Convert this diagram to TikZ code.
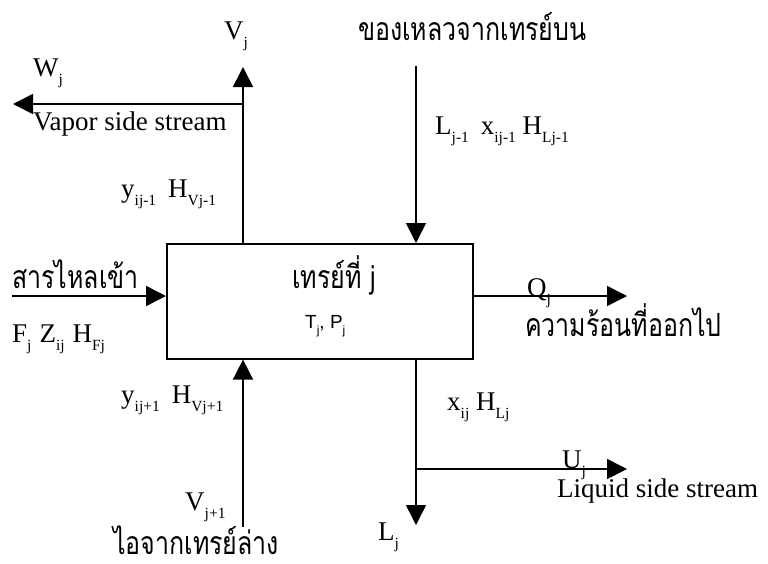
\documentclass[tikz,border=0pt]{standalone}
\usepackage{fontspec}
\setmainfont{Liberation Serif}
\newfontfamily\thaifont[Script=Thai,FakeStretch=0.78]{Loma}
\newfontfamily\arialf{Liberation Sans}
\usetikzlibrary{arrows.meta}
\newcommand\sbx[1]{\raisebox{-8pt}{\fontsize{15.5}{15.5}\selectfont #1}}
\newcommand\sbs[1]{\raisebox{-6pt}{\fontsize{12}{12}\selectfont #1}}
\begin{document}
\begin{tikzpicture}[x=1pt,y=-1pt,
  flow/.style={line width=1.6pt,-{Triangle[length=20pt,width=20pt]}},
  lbl/.style={anchor=base west,inner sep=0pt,font=\fontsize{27}{27}\selectfont},
  thl/.style={anchor=base west,inner sep=0pt,font=\thaifont\fontsize{32}{32}\selectfont},
  sfl/.style={anchor=base west,inner sep=0pt,font=\arialf\fontsize{19}{19}\selectfont}]
\useasboundingbox[fill=white] (0,0) rectangle (768,563);
% tray box
\node[draw,line width=1.6pt,minimum width=306pt,minimum height=115pt,inner sep=0pt,anchor=north west] (tray) at (166,243) {};
% free ends
\coordinate (vjtop) at (243,67);
\coordinate (wjsplit) at (243,104);
\coordinate (wjend) at (13,104);
\coordinate (ltop) at (416,66);
\coordinate (fin) at (12,296);
\coordinate (vbot) at (243,527);
\coordinate (qend) at (627,296);
\coordinate (ljend) at (416,525);
\coordinate (usplit) at (416,469);
\coordinate (uend) at (627,469);
% connectors
\draw[flow] (tray.north -| vjtop) -- (vjtop);
\draw[flow] (wjsplit) -- (wjend);
\draw[flow] (ltop) -- (tray.north -| ltop);
\draw[flow] (fin) -- (tray.west |- fin);
\draw[flow] (vbot) -- (tray.south -| vbot);
\draw[flow] (tray.east |- qend) -- (qend);
\draw[flow] (tray.south -| ljend) -- (ljend);
\draw[flow] (usplit) -- (uend);
% labels
\node[lbl] (vj) at (224,39) {V\sbx{j}};
\node[lbl] (wj) at (33,76) {W\sbx{j}};
\node[lbl] (vss) at (33,130) {Vapor side stream};
\node[lbl] (yup) at (121,197) {y\sbx{ij-1}\hspace{12pt}H\sbx{Vj-1}};
\node[thl] (top) at (358,40) {ของเหลวจากเทรย์บน};
\node[lbl] (lup) at (435,134) {L\sbx{j-1}\hspace{12pt}x\sbx{ij-1} H\sbx{Lj-1}};
\node[thl] (feed) at (12,288) {สารไหลเข้า};
\node[lbl] (fz) at (12,342) {F\sbx{j}\hspace{8pt}Z\sbx{ij}\hspace{8pt}H\sbx{Fj}};
\node[thl] (trayname) at (292,288) {เทรย์ที่ j};
\node[sfl] (tp) at (305,328) {T\sbs{j}, P\sbs{j}};
\node[lbl] (ydn) at (121,403) {y\sbx{ij+1}\hspace{12pt}H\sbx{Vj+1}};
\node[lbl] (vjp) at (185,510) {V\sbx{j+1}};
\node[thl] (bot) at (113,554) {ไอจากเทรย์ล่าง};
\node[lbl] (lj) at (378,540) {L\sbx{j}};
\node[lbl] (qj) at (527,296) {Q\sbx{j}};
\node[thl] (heat) at (525,336) {ความร้อนที่ออกไป};
\node[lbl] (xh) at (447,410) {x\sbx{ij} H\sbx{Lj}};
\node[lbl] (uj) at (562,468) {U\sbx{j}};
\node[lbl] (lss) at (557,497) {Liquid side stream};
\end{tikzpicture}
\end{document}
